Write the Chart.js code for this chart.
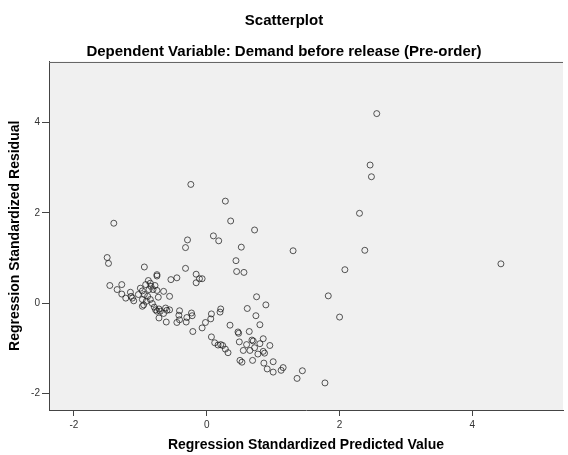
<!DOCTYPE html>
<html>
<head>
<meta charset="utf-8">
<script src="https://cdn.jsdelivr.net/npm/chart.js@4"></script>
<style>
  html, body { margin: 0; padding: 0; background: #fff; }
  canvas { display: block; }
</style>
</head>
<body>
<canvas id="scatterChart" width="568" height="455"></canvas>
<script>
// predicted values (x) and residuals (y)
var predicted = [
  2.56, 2.46, 2.48, 2.30, 2.38, 2.08, 1.83, 2.00, 4.43, 1.78,
  -0.24, 0.28, 0.36, 0.72, -0.29, -0.32, 0.10, 0.18, 0.52, 1.30,
  0.44, 0.45, 0.56, -0.32, -0.16, -0.11, -0.07, -0.16, -0.45, 0.75,
  -1.40, 0.89, 0.61, 0.74, 0.80, 0.35, 0.64, 0.47, 0.48, 0.85,
  0.68, 0.70, 0.49, 0.80, 0.60, 0.95, 0.72, 0.55, 0.65, 0.85,
  0.87, 0.77, 0.50, 0.53, 0.69, 0.86, 1.00, 0.91, 1.00, 1.12,
  1.15, 1.44, 1.36, -0.41, -0.42, -0.41, -0.23, -0.22, -0.30, -0.31,
  0.07, 0.21, 0.20, 0.06, -0.02, -0.07, -0.21, 0.07, 0.12, 0.17,
  0.21, 0.24, 0.28, 0.32, -1.50, -1.48, -0.94, -0.75, -0.75, -0.54,
  -0.88, -0.85, -1.46, -1.28, -1.35, -1.28, -1.22, -1.15, -1.12, -1.10,
  -1.14, -1.00, -1.03, -0.97, -0.94, -0.92, -0.84, -0.87, -0.81, -0.78,
  -0.75, -0.65, -0.56, -0.73, -0.89, -0.97, -0.95, -0.97, -0.85, -0.82,
  -0.91, -0.79, -0.77, -0.72, -0.75, -0.70, -0.62, -0.60, -0.56, -0.65,
  -0.72, -0.61, -0.45
];
var residuals = [
  4.20, 3.06, 2.80, 1.99, 1.17, 0.74, 0.16, -0.31, 0.87, -1.77,
  2.63, 2.26, 1.82, 1.62, 1.40, 1.23, 1.49, 1.38, 1.24, 1.16,
  0.94, 0.70, 0.68, 0.77, 0.64, 0.54, 0.54, 0.45, 0.56, 0.14,
  1.77, -0.04, -0.12, -0.28, -0.48, -0.49, -0.63, -0.64, -0.67, -0.79,
  -0.82, -0.84, -0.86, -0.90, -0.92, -0.94, -0.99, -1.05, -1.05, -1.07,
  -1.11, -1.13, -1.27, -1.31, -1.27, -1.33, -1.30, -1.46, -1.53, -1.49,
  -1.43, -1.50, -1.67, -0.17, -0.27, -0.37, -0.22, -0.28, -0.32, -0.42,
  -0.24, -0.13, -0.20, -0.35, -0.43, -0.55, -0.63, -0.75, -0.88, -0.93,
  -0.92, -0.94, -1.02, -1.10, 1.01, 0.88, 0.80, 0.63, 0.60, 0.52,
  0.50, 0.44, 0.39, 0.41, 0.30, 0.20, 0.11, 0.24, 0.11, 0.05,
  0.15, 0.33, 0.19, 0.27, 0.19, 0.41, 0.37, 0.30, 0.30, 0.39,
  0.28, 0.26, 0.15, 0.13, 0.15, 0.08, -0.04, -0.07, 0.08, -0.01,
  0.04, -0.09, -0.15, -0.13, -0.18, -0.18, -0.11, -0.16, -0.15, -0.23,
  -0.33, -0.42, -0.43
];
var tickValues = [-2, 0, 2, 4];

var titleText = "Scatterplot";
var subtitleText = "Dependent Variable: Demand before release (Pre-order)";
var xTitle = "Regression Standardized Predicted Value";
var yTitle = "Regression Standardized Residual";

var fontFamily = "'Liberation Sans', Arial, sans-serif";

var points = predicted.map(function(x, i) {
  return { x: x, y: residuals[i] };
});

// grey plot background and the top frame line
var plotFrame = {
  id: 'plotFrame',
  beforeDraw: function(chart) {
    var a = chart.chartArea;
    var ctx = chart.ctx;
    ctx.save();
    ctx.fillStyle = '#f0f0f0';
    ctx.fillRect(a.left, a.top, a.right - a.left, a.bottom - a.top);
    ctx.restore();
  },
  afterDraw: function(chart) {
    var a = chart.chartArea;
    var ctx = chart.ctx;
    ctx.save();
    ctx.strokeStyle = '#666';
    ctx.lineWidth = 1;
    ctx.beginPath();
    ctx.moveTo(a.left, Math.round(a.top) + 0.5);
    ctx.lineTo(a.right, Math.round(a.top) + 0.5);
    ctx.stroke();
    ctx.restore();
  }
};

function onlyTicks(scale) {
  scale.ticks = tickValues.map(function(v) { return { value: v }; });
}

var ctx = document.getElementById('scatterChart').getContext('2d');
new Chart(ctx, {
  type: 'scatter',
  data: {
    datasets: [{
      data: points,
      pointStyle: 'circle',
      pointRadius: 3,
      pointBorderWidth: 1,
      pointBackgroundColor: 'rgba(0,0,0,0)',
      pointBorderColor: 'rgba(25,25,25,0.72)'
    }]
  },
  options: {
    responsive: false,
    animation: false,
    layout: { padding: 0 },
    plugins: {
      legend: { display: false },
      tooltip: { enabled: false },
      title: {
        display: true,
        text: titleText,
        color: '#000',
        font: { family: fontFamily, size: 15, weight: 'bold' },
        padding: { top: 12.3, bottom: 12.4 }
      },
      subtitle: {
        display: true,
        text: subtitleText,
        color: '#000',
        font: { family: fontFamily, size: 15, weight: 'bold' },
        padding: { top: 0, bottom: 0.8 }
      }
    },
    scales: {
      x: {
        type: 'linear',
        min: -2.376,
        max: 5.365,
        afterBuildTicks: onlyTicks,
        afterFit: function(scale) { scale.height = 45; },
        ticks: {
          includeBounds: false,
          color: '#333',
          font: { family: fontFamily, size: 10 },
          padding: 3,
          maxRotation: 0
        },
        grid: {
          drawOnChartArea: false,
          drawTicks: true,
          tickLength: 6,
          tickColor: '#444'
        },
        border: { display: true, color: '#444', width: 1 },
        title: {
          display: true,
          text: xTitle,
          color: '#000',
          font: { family: fontFamily, size: 14, weight: 'bold' },
          padding: { top: 0, bottom: 1 }
        }
      },
      y: {
        type: 'linear',
        min: -2.37,
        max: 5.355,
        afterBuildTicks: onlyTicks,
        afterFit: function(scale) { scale.width = 49; },
        ticks: {
          includeBounds: false,
          color: '#333',
          font: { family: fontFamily, size: 10 },
          padding: 2
        },
        grid: {
          drawOnChartArea: false,
          drawTicks: true,
          tickLength: 7,
          tickColor: '#444'
        },
        border: { display: true, color: '#444', width: 1 },
        title: {
          display: true,
          text: yTitle,
          color: '#000',
          font: { family: fontFamily, size: 14, weight: 'bold' },
          padding: { top: 7, bottom: 0 }
        }
      }
    }
  },
  plugins: [plotFrame]
});
</script>
</body>
</html>
